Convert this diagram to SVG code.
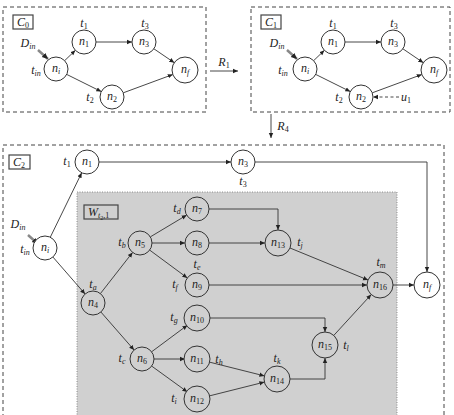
<svg xmlns="http://www.w3.org/2000/svg" width="454" height="415" viewBox="0 0 454 415">
<style>
.box{fill:none;stroke:#444;stroke-width:1;stroke-dasharray:4,3}
.lbl{fill:#fff;stroke:#444;stroke-width:1.2}
.node{fill:#fff;stroke:#333;stroke-width:1}
.gnode{fill:#d0d0d0;stroke:#333;stroke-width:1}
.e{fill:none;stroke:#333;stroke-width:0.9;marker-end:url(#ah)}
.t{font-family:"Liberation Serif",serif;font-style:italic;font-size:12px;fill:#222}
.sb{font-size:8px}
.up{font-style:normal}
</style>
<defs>
<marker id="ah" markerWidth="6" markerHeight="6" refX="5" refY="3" orient="auto" markerUnits="userSpaceOnUse">
<path d="M0,0.8 L5,3 L0,5.2 Z" fill="#222"/>
</marker>
<marker id="ahd" markerWidth="7" markerHeight="7" refX="6" refY="3.5" orient="auto" markerUnits="userSpaceOnUse">
<path d="M0,0.8 L6,3.5 L0,6.2 Z" fill="#222"/>
</marker>
</defs>
<rect x="0" y="0" width="454" height="415" fill="#fff"/>

<!-- C0 -->
<g id="C0">
<rect class="box" x="3" y="7" width="203" height="105"/>
<rect class="lbl" x="13" y="15" width="20" height="14"/>
<text class="t" x="17" y="26">C<tspan class="sb up" dy="2">0</tspan></text>
<g id="c0-conn">
<path class="e" d="M64.6,60.7 L75.4,50.3"/>
<path class="e" d="M96,42 L132,42"/>
<path class="e" d="M153.9,48.8 L174.3,62.7"/>
<path class="e" d="M66.7,74.4 L101.3,91.6"/>
<path class="e" d="M123.3,92.8 L172.8,74.5"/>
<path d="M38,50 L48,59" stroke="#888" stroke-width="2.5" fill="none" marker-end="url(#ahd)"/>
</g>
<g id="c0-ni"><circle class="node" cx="56" cy="69" r="12"/><text class="t" x="56" y="72" text-anchor="middle">n<tspan class="sb" dy="2">i</tspan></text></g>
<g id="c0-n1"><circle class="node" cx="84" cy="42" r="12"/><text class="t" x="84" y="45" text-anchor="middle">n<tspan class="sb up" dy="2">1</tspan></text></g>
<g id="c0-n3"><circle class="node" cx="144" cy="42" r="12"/><text class="t" x="144" y="45" text-anchor="middle">n<tspan class="sb up" dy="2">3</tspan></text></g>
<g id="c0-n2"><circle class="node" cx="112" cy="97" r="12"/><text class="t" x="112" y="100" text-anchor="middle">n<tspan class="sb up" dy="2">2</tspan></text></g>
<g id="c0-nf"><circle class="node" cx="185" cy="70" r="13"/><text class="t" x="185" y="73" text-anchor="middle">n<tspan class="sb" dy="2">f</tspan></text></g>
<text class="t" x="84" y="27" text-anchor="middle">t<tspan class="sb up" dy="2">1</tspan></text>
<text class="t" x="145" y="27" text-anchor="middle">t<tspan class="sb up" dy="2">3</tspan></text>
<text class="t" x="28" y="47" text-anchor="middle">D<tspan class="sb" dy="2">in</tspan></text>
<text class="t" x="36" y="74" text-anchor="middle">t<tspan class="sb" dy="2">in</tspan></text>
<text class="t" x="90" y="101" text-anchor="middle">t<tspan class="sb up" dy="2">2</tspan></text>
</g>

<!-- R1 -->
<g id="R1">
<path class="e" d="M210,71 L238,71"/>
<text class="t" x="224" y="66" text-anchor="middle">R<tspan class="sb up" dy="2">1</tspan></text>
</g>

<!-- C1 -->
<g id="C1">
<rect class="box" x="251" y="7" width="199" height="105"/>
<rect class="lbl" x="261" y="15" width="20" height="14"/>
<text class="t" x="265" y="26">C<tspan class="sb up" dy="2">1</tspan></text>
<g transform="translate(249,0)">
<g id="c1-conn">
<path class="e" d="M64.6,60.7 L75.4,50.3"/>
<path class="e" d="M96,42 L132,42"/>
<path class="e" d="M153.9,48.8 L174.3,62.7"/>
<path class="e" d="M66.7,74.4 L101.3,91.6"/>
<path class="e" d="M123.3,92.8 L172.8,74.5"/>
<path d="M38,50 L48,59" stroke="#888" stroke-width="2.5" fill="none" marker-end="url(#ahd)"/>
<path d="M150,97 L124,97" fill="none" stroke="#333" stroke-width="0.9" stroke-dasharray="3,2.5" marker-end="url(#ah)"/>
</g>
<g id="c1-ni"><circle class="node" cx="56" cy="69" r="12"/><text class="t" x="56" y="72" text-anchor="middle">n<tspan class="sb" dy="2">i</tspan></text></g>
<g id="c1-n1"><circle class="node" cx="84" cy="42" r="12"/><text class="t" x="84" y="45" text-anchor="middle">n<tspan class="sb up" dy="2">1</tspan></text></g>
<g id="c1-n3"><circle class="node" cx="144" cy="42" r="12"/><text class="t" x="144" y="45" text-anchor="middle">n<tspan class="sb up" dy="2">3</tspan></text></g>
<g id="c1-n2"><circle class="node" cx="112" cy="97" r="12"/><text class="t" x="112" y="100" text-anchor="middle">n<tspan class="sb up" dy="2">2</tspan></text></g>
<g id="c1-nf"><circle class="node" cx="185" cy="70" r="13"/><text class="t" x="185" y="73" text-anchor="middle">n<tspan class="sb" dy="2">f</tspan></text></g>
<text class="t" x="84" y="27" text-anchor="middle">t<tspan class="sb up" dy="2">1</tspan></text>
<text class="t" x="145" y="27" text-anchor="middle">t<tspan class="sb up" dy="2">3</tspan></text>
<text class="t" x="28" y="47" text-anchor="middle">D<tspan class="sb" dy="2">in</tspan></text>
<text class="t" x="34" y="74" text-anchor="middle">t<tspan class="sb" dy="2">in</tspan></text>
<text class="t" x="90" y="101" text-anchor="middle">t<tspan class="sb up" dy="2">2</tspan></text>
<text class="t" x="157" y="101" text-anchor="middle">u<tspan class="sb up" dy="2">1</tspan></text>
</g>
</g>

<!-- R4 -->
<g id="R4">
<path class="e" d="M271,114 L271,138"/>
<text class="t" x="283" y="130" text-anchor="middle">R<tspan class="sb up" dy="2">4</tspan></text>
</g>

<!-- C2 -->
<g id="C2">
<rect class="box" x="3" y="145" width="441" height="280"/>
<rect class="lbl" x="9" y="155" width="21" height="14"/>
<text class="t" x="13" y="166">C<tspan class="sb up" dy="2">2</tspan></text>
</g>

<g id="W">
<rect x="77" y="192" width="320" height="230" fill="#d0d0d0" stroke="#777" stroke-width="0.8" stroke-dasharray="1,1.5"/>
<rect x="84" y="205" width="34" height="14" fill="#d0d0d0" stroke="#444" stroke-width="1.2"/>
<text class="t" x="88" y="216">W<tspan class="sb" dy="2">t</tspan><tspan style="font-size:6px;font-style:normal" dy="1.5">2</tspan><tspan class="sb up" dy="-1.5">,1</tspan></text>
</g>

<g id="c2-conn">
<path class="e" d="M50.3,237.2 L81.7,172.8"/>
<path class="e" d="M99,162 L231,162"/>
<path class="e" d="M255,162 L427,162 L427,272"/>
<path class="e" d="M52.9,257 L85.1,294"/>
<path class="e" d="M100.4,293.6 L132.6,252.4"/>
<path class="e" d="M100.9,312 L134.1,350"/>
<path class="e" d="M150.3,236.9 L186.7,215.1"/>
<path class="e" d="M152,243 L185,243"/>
<path class="e" d="M149.7,250.1 L187.3,277.9"/>
<path class="e" d="M209,209 L278,209 L278,230"/>
<path class="e" d="M209,243 L265,243"/>
<path class="e" d="M290,248 L368,280"/>
<path class="e" d="M209,285 L367,285"/>
<path class="e" d="M393,285 L414,285"/>
<path class="e" d="M151.6,351.8 L187.4,325.2"/>
<path class="e" d="M154,359 L185,359"/>
<path class="e" d="M151.7,366.1 L187.3,391.9"/>
<path class="e" d="M208.6,361.9 L264.4,375.9"/>
<path class="e" d="M208.6,396.1 L264.4,382.1"/>
<path class="e" d="M209,318 L325,318 L325,332"/>
<path class="e" d="M290,379 L325,379 L325,358"/>
<path class="e" d="M333.8,335.4 L371.2,294.6"/>
<path d="M28,235 L38,244" stroke="#888" stroke-width="2.5" fill="none" marker-end="url(#ahd)"/>
</g>

<g id="c2-ni"><circle class="node" cx="45" cy="248" r="12"/><text class="t" x="45" y="251" text-anchor="middle">n<tspan class="sb" dy="2">i</tspan></text></g>
<g id="c2-n1"><circle class="node" cx="87" cy="162" r="12"/><text class="t" x="87" y="165" text-anchor="middle">n<tspan class="sb up" dy="2">1</tspan></text></g>
<g id="c2-n3"><circle class="node" cx="243" cy="162" r="12"/><text class="t" x="243" y="165" text-anchor="middle">n<tspan class="sb up" dy="2">3</tspan></text></g>
<g id="c2-nf"><circle class="node" cx="427" cy="285" r="13"/><text class="t" x="427" y="288" text-anchor="middle">n<tspan class="sb" dy="2">f</tspan></text></g>
<g id="c2-n4"><circle class="gnode" cx="93" cy="303" r="12"/><text class="t" x="93" y="306" text-anchor="middle">n<tspan class="sb up" dy="2">4</tspan></text></g>
<g id="c2-n5"><circle class="gnode" cx="140" cy="243" r="12"/><text class="t" x="140" y="246" text-anchor="middle">n<tspan class="sb up" dy="2">5</tspan></text></g>
<g id="c2-n6"><circle class="gnode" cx="142" cy="359" r="12"/><text class="t" x="142" y="362" text-anchor="middle">n<tspan class="sb up" dy="2">6</tspan></text></g>
<g id="c2-n7"><circle class="gnode" cx="197" cy="209" r="12"/><text class="t" x="197" y="212" text-anchor="middle">n<tspan class="sb up" dy="2">7</tspan></text></g>
<g id="c2-n8"><circle class="gnode" cx="197" cy="243" r="12"/><text class="t" x="197" y="246" text-anchor="middle">n<tspan class="sb up" dy="2">8</tspan></text></g>
<g id="c2-n9"><circle class="gnode" cx="197" cy="285" r="12"/><text class="t" x="197" y="288" text-anchor="middle">n<tspan class="sb up" dy="2">9</tspan></text></g>
<g id="c2-n10"><circle class="gnode" cx="197" cy="318" r="13"/><text class="t" x="197" y="321" text-anchor="middle">n<tspan class="sb up" dy="2">10</tspan></text></g>
<g id="c2-n11"><circle class="gnode" cx="197" cy="359" r="13"/><text class="t" x="197" y="362" text-anchor="middle">n<tspan class="sb up" dy="2">11</tspan></text></g>
<g id="c2-n12"><circle class="gnode" cx="197" cy="399" r="13"/><text class="t" x="197" y="402" text-anchor="middle">n<tspan class="sb up" dy="2">12</tspan></text></g>
<g id="c2-n13"><circle class="gnode" cx="278" cy="243" r="13"/><text class="t" x="278" y="246" text-anchor="middle">n<tspan class="sb up" dy="2">13</tspan></text></g>
<g id="c2-n14"><circle class="gnode" cx="277" cy="379" r="13"/><text class="t" x="277" y="382" text-anchor="middle">n<tspan class="sb up" dy="2">14</tspan></text></g>
<g id="c2-n15"><circle class="gnode" cx="325" cy="345" r="13"/><text class="t" x="325" y="348" text-anchor="middle">n<tspan class="sb up" dy="2">15</tspan></text></g>
<g id="c2-n16"><circle class="gnode" cx="380" cy="285" r="13"/><text class="t" x="380" y="288" text-anchor="middle">n<tspan class="sb up" dy="2">16</tspan></text></g>

<g id="c2-labels">
<text class="t" x="67" y="165" text-anchor="middle">t<tspan class="sb up" dy="2">1</tspan></text>
<text class="t" x="243" y="185" text-anchor="middle">t<tspan class="sb up" dy="2">3</tspan></text>
<text class="t" x="18" y="228" text-anchor="middle">D<tspan class="sb" dy="2">in</tspan></text>
<text class="t" x="25" y="253" text-anchor="middle">t<tspan class="sb" dy="2">in</tspan></text>
<text class="t" x="93" y="288" text-anchor="middle">t<tspan class="sb" dy="2">a</tspan></text>
<text class="t" x="122" y="246" text-anchor="middle">t<tspan class="sb" dy="2">b</tspan></text>
<text class="t" x="122" y="362" text-anchor="middle">t<tspan class="sb" dy="2">c</tspan></text>
<text class="t" x="177" y="212" text-anchor="middle">t<tspan class="sb" dy="2">d</tspan></text>
<text class="t" x="197" y="268" text-anchor="middle">t<tspan class="sb" dy="2">e</tspan></text>
<text class="t" x="175" y="288" text-anchor="middle">t<tspan class="sb" dy="2">f</tspan></text>
<text class="t" x="174" y="321" text-anchor="middle">t<tspan class="sb" dy="2">g</tspan></text>
<text class="t" x="219" y="363" text-anchor="middle">t<tspan class="sb" dy="2">h</tspan></text>
<text class="t" x="174" y="402" text-anchor="middle">t<tspan class="sb" dy="2">i</tspan></text>
<text class="t" x="300" y="246" text-anchor="middle">t<tspan class="sb" dy="2">j</tspan></text>
<text class="t" x="277" y="362" text-anchor="middle">t<tspan class="sb" dy="2">k</tspan></text>
<text class="t" x="346" y="349" text-anchor="middle">t<tspan class="sb" dy="2">l</tspan></text>
<text class="t" x="381" y="266" text-anchor="middle">t<tspan class="sb" dy="2">m</tspan></text>
</g>
</svg>
